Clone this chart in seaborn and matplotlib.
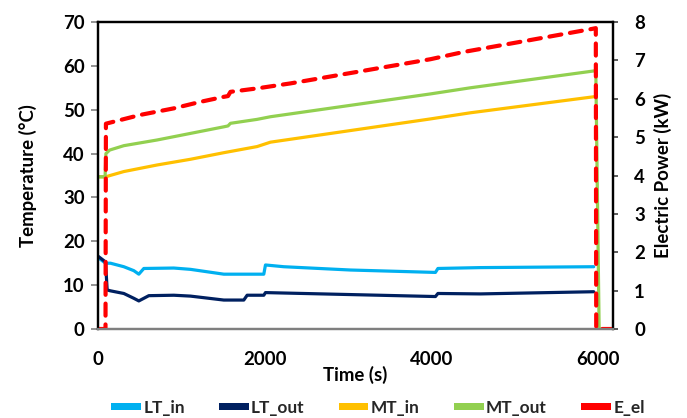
import matplotlib
matplotlib.use("Agg")
import matplotlib.pyplot as plt
import matplotlib.patches as mpatches
import seaborn as sns

# Time stamps (s) and readings for each logged channel
t_lt_in = [0, 90, 150, 310, 430, 490, 550, 910, 1110, 1510, 1990, 2010, 2230, 3030, 4050, 4080, 4590, 5950]
lt_in = [16.3, 15.0, 15.0, 14.2, 13.3, 12.5, 13.8, 13.9, 13.6, 12.5, 12.5, 14.6, 14.2, 13.45, 12.9, 13.8, 14.0, 14.2]

t_lt_out = [0, 90, 110, 150, 310, 430, 490, 550, 610, 910, 1110, 1510, 1750, 1790, 1990, 2010, 4050, 4080, 4590, 5950]
lt_out = [16.6, 15.3, 8.9, 8.7, 8.1, 7.0, 6.4, 7.0, 7.6, 7.7, 7.5, 6.6, 6.6, 7.7, 7.7, 8.3, 7.4, 8.1, 8.0, 8.5]

t_mt_in = [0, 90, 310, 710, 1110, 1510, 1910, 2070, 3990, 4470, 5970]
mt_in = [34.7, 34.7, 35.9, 37.4, 38.7, 40.2, 41.6, 42.6, 47.9, 49.3, 53.0]

t_mt_out = [0, 85, 95, 140, 310, 710, 1110, 1510, 1560, 1590, 1910, 2070, 3990, 4470, 5975, 6015, 6185]
mt_out = [34.7, 34.7, 40.0, 40.8, 41.8, 43.1, 44.6, 46.1, 46.3, 46.9, 47.8, 48.4, 53.6, 55.0, 58.9, 0, 0]

t_e_el = [0, 90, 95, 510, 910, 1230, 1510, 1560, 1590, 1910, 2310, 3990, 4390, 5190, 5930, 5975, 5980, 6170]
e_el = [0, 0, 5.35, 5.58, 5.75, 5.92, 6.05, 6.07, 6.18, 6.27, 6.40, 7.03, 7.22, 7.53, 7.82, 7.84, 0, 0]

temp_ticks = [0, 10, 20, 30, 40, 50, 60, 70]
power_ticks = [0, 1, 2, 3, 4, 5, 6, 7, 8]
time_ticks = [0, 2000, 4000, 6000]

colors = {"LT_in": "#00B0F0", "LT_out": "#002060", "MT_in": "#FFC000",
          "MT_out": "#92D050", "E_el": "#FF0000"}

sns.set_theme(style="white")
plt.rcParams["font.family"] = ["Lato", "DejaVu Sans"]

fig = plt.figure(figsize=(6.87, 4.18), dpi=100)
ax = fig.add_axes([98 / 687, 1 - 329 / 418, 515.3 / 687, 307 / 418])
ax2 = ax.twinx()

temp_series = [("LT_in", t_lt_in, lt_in), ("LT_out", t_lt_out, lt_out),
               ("MT_in", t_mt_in, mt_in), ("MT_out", t_mt_out, mt_out)]
for name, t, v in temp_series:
    sns.lineplot(x=t, y=v, ax=ax, color=colors[name], lw=2.3,
                 estimator=None, sort=False, legend=False)

sns.lineplot(x=t_e_el, y=e_el, ax=ax2, color=colors["E_el"], lw=3.0,
             estimator=None, sort=False, legend=False)
el_line = ax2.lines[-1]
el_line.set_linestyle((0, (2.9, 2.1)))
el_line.set_dash_capstyle("round")

ax.set_xlim(0, 6185)
ax.set_ylim(0, 70)
ax2.set_ylim(0, 8)
ax.set_xticks(time_ticks)
ax.set_yticks(temp_ticks)
ax2.set_yticks(power_ticks)

fs = 13.4
for lab in ax.get_xticklabels() + ax.get_yticklabels() + ax2.get_yticklabels():
    lab.set_fontsize(fs)
    lab.set_fontweight("bold")
    lab.set_color("black")

ax.tick_params(axis="x", length=0, pad=15.5)
ax.tick_params(axis="y", left=True, length=5, width=1.2, color="#808080", pad=4.5, direction="out")
ax2.tick_params(axis="y", right=True, length=3.6, width=1.2, color="#404040", pad=11.5, direction="out")

for a in (ax, ax2):
    for side in ("left", "top", "right"):
        a.spines[side].set_color("black")
        a.spines[side].set_linewidth(1.6)
    a.spines["bottom"].set_color("#7f7f7f")
    a.spines["bottom"].set_linewidth(1.6)

ax.set_xlabel("Time (s)", fontsize=fs, fontweight="bold", color="black")
ax.set_ylabel("Temperature (°C)", fontsize=fs, fontweight="bold", color="black")
ax2.set_ylabel("Electric Power (kW)", fontsize=fs, fontweight="bold", color="black")
ax.xaxis.set_label_coords(0.5, (329 - 366) / 307)
ax.yaxis.set_label_coords((37 - 98) / 515.3, 0.5)
ax2.yaxis.set_label_coords((654 - 98) / 515.3, 0.5)

# Solid colour bars as legend keys
handles = [mpatches.Patch(facecolor=colors[n], edgecolor="none", linewidth=0) for n in colors]
fig.legend(handles, list(colors), loc="center", bbox_to_anchor=(378 / 687, 1 - 408 / 418),
           ncol=5, frameon=False, handlelength=1.7, handleheight=0.22, handletextpad=0.15,
           columnspacing=2.0, prop={"size": 12.4, "weight": "bold"})

fig.savefig("out.png", dpi=100)
